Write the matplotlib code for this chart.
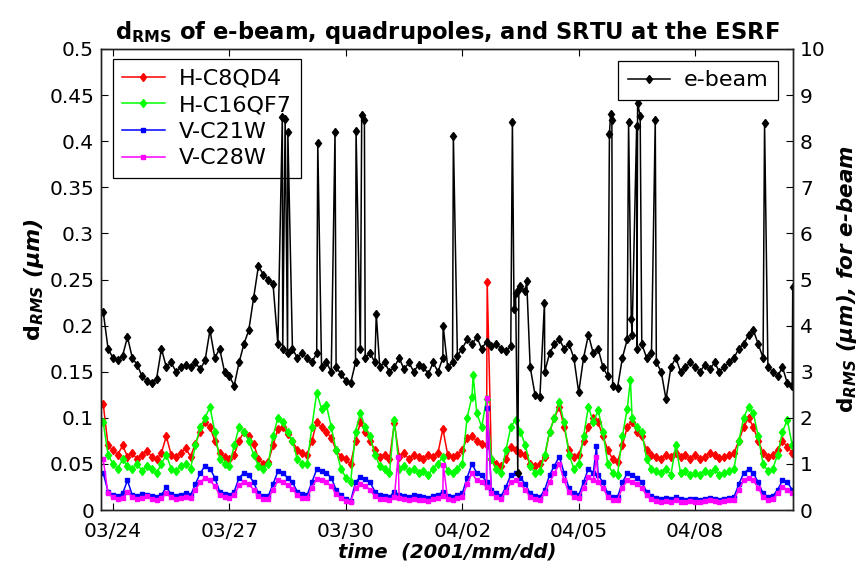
import numpy as np
import matplotlib
matplotlib.use("Agg")
import matplotlib.pyplot as plt
import matplotlib.dates as mdates

plt.rcParams['font.family'] = ['DejaVu Sans']
plt.rcParams['mathtext.fontset'] = 'custom'
plt.rcParams['mathtext.rm'] = 'DejaVu Sans:bold'
plt.rcParams['mathtext.it'] = 'DejaVu Sans:italic:bold'
plt.rcParams['mathtext.bf'] = 'DejaVu Sans:bold'

# ---------------- data (3-hour samples starting 2001-03-23 18:00) ----------------
start_time = '2001-03-23T18:00'

ebeam = [4.3, 3.5,                                   # 03/23 18h,21h
         3.3, 3.25, 3.35, 3.75, 3.3, 3.15, 2.9, 2.8,   # 03/24
         2.75, 2.85, 3.5, 3.1, 3.2, 3.0, 3.1, 3.15,    # 03/25
         3.1, 3.2, 3.05, 3.25, 3.9, 3.3, 3.5, 3.0,     # 03/26
         2.9, 2.7, 3.2, 3.6, 3.9, 4.6, 5.3, 5.1,       # 03/27
         5.0, 4.9, 3.6, 3.5, 3.4, 3.5, 3.3, 3.4,       # 03/28
         3.3, 3.2, 3.4, 3.1, 3.2, 3.0, 3.1, 2.95,      # 03/29
         2.8, 2.75, 3.2, 3.5, 3.3, 3.4, 3.2, 3.1,      # 03/30
         3.2, 3.0, 3.1, 3.3, 3.05, 3.2, 3.0, 3.15,     # 03/31
         3.1, 2.95, 3.2, 3.0, 3.3, 3.1, 3.2, 3.35,     # 04/01
         3.5, 3.7, 3.6, 3.75, 3.5, 3.65, 3.55, 3.6,    # 04/02
         3.5, 3.45, 3.55, 4.7, 4.85, 4.75, 3.1, 2.5,   # 04/03
         2.45, 3.0, 3.4, 3.6, 3.7, 3.5, 3.6, 3.3,      # 04/04
         2.55, 3.3, 3.8, 3.4, 3.5, 3.1, 2.9, 2.7,      # 04/05
         2.65, 3.3, 3.7, 3.8, 3.5, 3.6, 3.3, 3.4,      # 04/06
         3.2, 3.0, 2.4, 3.1, 3.3, 3.0, 3.1, 3.2,       # 04/07
         3.1, 3.0, 3.15, 3.05, 3.2, 3.0, 3.1, 3.2,     # 04/08
         3.3, 3.5, 3.6, 3.8, 3.9, 3.6, 3.3, 3.1,       # 04/09
         3.0, 2.9, 3.1, 2.75, 2.7]                     # 04/10 00h..12h
ebeam_spike_t = ['2001-03-28T08:45', '2001-03-28T10:30', '2001-03-28T12:10',
                 '2001-03-29T06:40', '2001-03-29T17:20', '2001-03-30T06:20',
                 '2001-03-30T09:50', '2001-03-30T11:30', '2001-03-30T18:50',
                 '2001-04-01T12:10', '2001-04-01T18:30', '2001-04-03T07:00',
                 '2001-04-03T08:00', '2001-04-03T10:20', '2001-04-03T11:00',
                 '2001-04-03T15:50', '2001-04-04T02:50', '2001-04-05T19:00',
                 '2001-04-05T19:45', '2001-04-05T20:30', '2001-04-06T06:50',
                 '2001-04-06T08:30', '2001-04-06T11:50', '2001-04-06T12:25',
                 '2001-04-06T14:00', '2001-04-06T23:20', '2001-04-09T18:55',
                 '2001-04-10T12:20']
ebeam_spike_v = [8.53, 8.48, 8.2,
                 7.97, 8.2, 8.23,
                 8.57, 8.46, 4.25,
                 4.0, 8.11, 8.42,
                 4.35, 0.8, 4.8,
                 4.97, 4.5, 8.16,
                 8.59, 8.47, 8.42,
                 4.14, 8.33, 8.82,
                 8.55, 8.46, 8.39,
                 4.84]

red = [0.115, 0.07,
       0.065, 0.06, 0.07, 0.058, 0.062, 0.055, 0.06, 0.064,
       0.058, 0.055, 0.062, 0.08, 0.06, 0.058, 0.062, 0.067,
       0.058, 0.072, 0.085, 0.095, 0.09, 0.075, 0.062, 0.058,
       0.055, 0.06, 0.075, 0.085, 0.08, 0.072, 0.055, 0.05,
       0.052, 0.07, 0.088, 0.09, 0.082, 0.075, 0.065, 0.062,
       0.06, 0.075, 0.095, 0.09, 0.085, 0.078, 0.065, 0.058,
       0.055, 0.05, 0.075, 0.095, 0.085, 0.075, 0.065, 0.058,
       0.06, 0.055, 0.094, 0.058, 0.062, 0.055, 0.06, 0.057,
       0.055, 0.06, 0.058, 0.062, 0.088, 0.06, 0.057, 0.06,
       0.065, 0.078, 0.08, 0.075, 0.072, 0.07, 0.055, 0.05,
       0.048, 0.055, 0.068, 0.065, 0.062, 0.06, 0.05, 0.048,
       0.05, 0.058, 0.085, 0.1, 0.112, 0.09, 0.065, 0.058,
       0.06, 0.075, 0.09, 0.1, 0.095, 0.08, 0.065, 0.055,
       0.052, 0.07, 0.09, 0.095, 0.085, 0.08, 0.065, 0.06,
       0.058, 0.055, 0.06, 0.058, 0.062, 0.057, 0.06, 0.055,
       0.06, 0.055, 0.058, 0.062, 0.06, 0.056, 0.058, 0.06,
       0.062, 0.075, 0.09, 0.1, 0.09, 0.075, 0.062, 0.058,
       0.06, 0.065, 0.075, 0.068, 0.062]
red_spike_t = ['2001-04-02T15:25']
red_spike_v = [0.247]

green = [0.095, 0.06,
         0.05, 0.045, 0.055, 0.048, 0.045, 0.05, 0.042, 0.048,
         0.045, 0.04, 0.05, 0.06, 0.045, 0.042, 0.048, 0.05,
         0.045, 0.07, 0.09, 0.1, 0.112, 0.085, 0.055, 0.05,
         0.048, 0.07, 0.09, 0.085, 0.075, 0.06, 0.048, 0.045,
         0.05, 0.08, 0.1, 0.095, 0.085, 0.075, 0.055, 0.05,
         0.05, 0.09, 0.127, 0.11, 0.114, 0.09, 0.065, 0.045,
         0.035, 0.03, 0.085, 0.105, 0.09, 0.08, 0.06, 0.048,
         0.045, 0.04, 0.098, 0.045, 0.048, 0.042, 0.045, 0.04,
         0.042, 0.038, 0.045, 0.05, 0.058, 0.042, 0.04, 0.045,
         0.05, 0.1, 0.123, 0.105, 0.09, 0.12, 0.055, 0.045,
         0.04, 0.065, 0.09, 0.098, 0.085, 0.07, 0.048, 0.04,
         0.042, 0.06, 0.085, 0.1, 0.117, 0.095, 0.06, 0.045,
         0.05, 0.08, 0.112, 0.095, 0.108, 0.085, 0.05, 0.04,
         0.038, 0.08, 0.11, 0.1, 0.09, 0.085, 0.055, 0.045,
         0.042, 0.04, 0.045, 0.038, 0.07, 0.04, 0.042, 0.038,
         0.04, 0.038, 0.042, 0.04, 0.045, 0.038, 0.04, 0.042,
         0.045, 0.075, 0.1, 0.112, 0.105, 0.08, 0.05, 0.042,
         0.045, 0.06, 0.085, 0.098, 0.07]
green_spike_t = ['2001-04-02T06:45', '2001-04-06T08:00']
green_spike_v = [0.146, 0.141]

blue = [0.04, 0.02,
        0.016, 0.015, 0.018, 0.032, 0.016, 0.015, 0.017, 0.016,
        0.015, 0.014, 0.016, 0.025, 0.017, 0.015, 0.016, 0.018,
        0.016, 0.028, 0.04, 0.048, 0.045, 0.035, 0.02, 0.017,
        0.016, 0.02, 0.035, 0.04, 0.038, 0.03, 0.018, 0.015,
        0.015, 0.028, 0.042, 0.04, 0.035, 0.03, 0.02, 0.017,
        0.016, 0.03, 0.044, 0.042, 0.04, 0.035, 0.022, 0.016,
        0.012, 0.01, 0.03, 0.036, 0.034, 0.03, 0.02, 0.016,
        0.015, 0.014, 0.02, 0.016, 0.015, 0.014, 0.016, 0.015,
        0.014, 0.013, 0.015, 0.016, 0.02, 0.015, 0.014, 0.016,
        0.018, 0.035, 0.05, 0.04, 0.038, 0.03, 0.022, 0.018,
        0.015, 0.025, 0.038, 0.04, 0.035, 0.028, 0.018, 0.015,
        0.014, 0.022, 0.038, 0.048, 0.058, 0.04, 0.024, 0.018,
        0.016, 0.03, 0.045, 0.04, 0.038, 0.03, 0.018, 0.014,
        0.014, 0.03, 0.04, 0.038, 0.035, 0.03, 0.02, 0.015,
        0.013, 0.012, 0.013, 0.012, 0.014, 0.012, 0.011, 0.012,
        0.012, 0.011, 0.012, 0.013, 0.012, 0.011, 0.012, 0.013,
        0.014, 0.028, 0.04, 0.044, 0.04, 0.03, 0.018, 0.014,
        0.015, 0.022, 0.032, 0.03, 0.022]
blue_spike_t = ['2001-04-02T15:25', '2001-04-05T11:00']
blue_spike_v = [0.111, 0.069]

magenta = [0.055, 0.018,
           0.014, 0.012, 0.013, 0.02, 0.014, 0.012, 0.013, 0.015,
           0.012, 0.011, 0.013, 0.018, 0.014, 0.012, 0.013, 0.014,
           0.013, 0.022, 0.03, 0.035, 0.032, 0.026, 0.016, 0.014,
           0.013, 0.016, 0.027, 0.03, 0.028, 0.022, 0.015, 0.012,
           0.012, 0.022, 0.032, 0.03, 0.027, 0.023, 0.016, 0.013,
           0.013, 0.024, 0.034, 0.032, 0.03, 0.026, 0.017, 0.013,
           0.01, 0.009, 0.024, 0.028, 0.026, 0.022, 0.015, 0.012,
           0.012, 0.011, 0.014, 0.013, 0.012, 0.011, 0.012, 0.011,
           0.011, 0.01, 0.012, 0.013, 0.015, 0.012, 0.011, 0.013,
           0.014, 0.028, 0.04, 0.032, 0.03, 0.025, 0.018, 0.014,
           0.012, 0.02, 0.03, 0.032, 0.028, 0.022, 0.014, 0.012,
           0.011, 0.018, 0.03, 0.04, 0.05, 0.032, 0.019, 0.014,
           0.013, 0.024, 0.036, 0.032, 0.03, 0.024, 0.014, 0.011,
           0.011, 0.024, 0.032, 0.03, 0.028, 0.024, 0.016, 0.012,
           0.01, 0.009, 0.01, 0.009, 0.011, 0.009, 0.009, 0.01,
           0.009, 0.009, 0.01, 0.011, 0.01, 0.009, 0.01, 0.011,
           0.011, 0.022, 0.032, 0.035, 0.032, 0.024, 0.014, 0.011,
           0.012, 0.018, 0.025, 0.022, 0.018]
magenta_spike_t = ['2001-03-31T08:20', '2001-04-01T12:15', '2001-04-02T15:25', '2001-04-05T11:00']
magenta_spike_v = [0.058, 0.049, 0.122, 0.058]

labels = ['H-C8QD4', 'H-C16QF7', 'V-C21W', 'V-C28W']
xtick_dates = ['2001-03-24', '2001-03-27', '2001-03-30', '2001-04-02', '2001-04-05', '2001-04-08']


def build(values, spike_t, spike_v):
    t = np.datetime64(start_time) + np.arange(len(values)) * np.timedelta64(3, 'h')
    t = t.astype('datetime64[m]')
    v = np.asarray(values, dtype=float)
    if spike_t:
        t = np.concatenate([t, np.array(spike_t, dtype='datetime64[m]')])
        v = np.concatenate([v, np.asarray(spike_v, dtype=float)])
        order = np.argsort(t, kind='stable')
        t, v = t[order], v[order]
    return t, v


fig = plt.figure(figsize=(8.67, 5.77), dpi=100)
ax = fig.add_axes([101 / 867, 1 - 510 / 577, 692 / 867, 461 / 577])

quad = [(red, red_spike_t, red_spike_v, '#ff0000', 'd', 4.5),
        (green, green_spike_t, green_spike_v, '#00ff00', 'd', 4.5),
        (blue, blue_spike_t, blue_spike_v, '#0000ff', 's', 3.2),
        (magenta, magenta_spike_t, magenta_spike_v, '#ff00ff', 's', 3.2)]
handles = []
for (vals, st, sv, col, mk, ms), lab in zip(quad, labels):
    t, v = build(vals, st, sv)
    h, = ax.plot(t, v, color=col, lw=1.1, marker=mk, ms=ms, mec=col, mfc=col, label=lab)
    handles.append(h)

ax2 = ax.twinx()
te, ve = build(ebeam, ebeam_spike_t, ebeam_spike_v)
he, = ax2.plot(te, ve, color='black', lw=1.1, marker='d', ms=4.5, label='e-beam')

xmin = np.datetime64('2001-03-23T16:38')
xmax = np.datetime64('2001-04-10T12:30')
ax.set_xlim(xmin, xmax)
ax.set_ylim(0, 0.5)
ax2.set_ylim(0, 10)
ax.set_yticks(np.arange(0, 0.501, 0.05))
ax.set_yticklabels(['0', '0.05', '0.1', '0.15', '0.2', '0.25', '0.3', '0.35', '0.4', '0.45', '0.5'])
ax2.set_yticks(np.arange(0, 11, 1))
ax.set_xticks(np.array(xtick_dates, dtype='datetime64[D]'))
ax.xaxis.set_major_formatter(mdates.DateFormatter('%m/%d'))

fs = 14.5
ax.tick_params(axis='both', direction='in', length=5, width=0.8, labelsize=fs, top=True, pad=5)
ax.tick_params(axis='x', pad=8.5)
ax.tick_params(axis='y', right=False)
ax2.tick_params(axis='y', direction='in', length=5, width=0.8, labelsize=fs, pad=5)
for a in (ax, ax2):
    for s in a.spines.values():
        s.set_linewidth(1.0)
        s.set_color('#222222')

ax.set_title(r'$\mathrm{d}_{\mathrm{RMS}}$ of e-beam, quadrupoles, and SRTU at the ESRF',
             fontsize=16.3, fontweight='bold', pad=7)
ax.set_xlabel('time  (2001/mm/dd)', fontsize=14, fontweight='bold', style='italic', labelpad=1)
ax.set_ylabel(r'$\mathrm{d}_{RMS}$ (μm)', fontsize=16, fontweight='bold', style='italic', labelpad=2)
ax2.set_ylabel(r'$\mathrm{d}_{RMS}$ (μm), for e-beam', fontsize=15.5, fontweight='bold',
               style='italic', labelpad=7)

leg_kw = dict(borderaxespad=0, fontsize=16, handlelength=1.9, handletextpad=0.63,
              labelspacing=0.3, borderpad=0.42, fancybox=False, framealpha=1,
              edgecolor='black', bbox_transform=fig.transFigure)
leg1 = ax.legend(handles=handles, loc='upper left', bbox_to_anchor=(113 / 867, 1 - 59 / 577), **leg_kw)
leg1.get_frame().set_linewidth(0.9)
leg2 = ax2.legend(handles=[he], loc='upper right', bbox_to_anchor=(778 / 867, 1 - 61 / 577), **leg_kw)
leg2.get_frame().set_linewidth(0.9)

fig.savefig('out.png', dpi=100)
